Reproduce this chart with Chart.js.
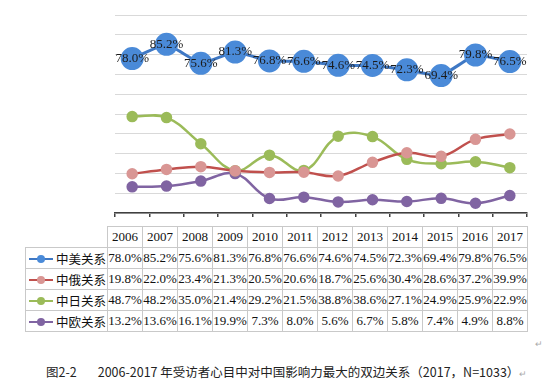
<!DOCTYPE html>
<html>
<head>
<meta charset="utf-8">
<script src="https://cdn.jsdelivr.net/npm/chart.js"></script>
<style>
  body { margin: 0; background: #fff; width: 548px; height: 391px; position: relative; overflow: hidden; }
  #wrap { position: absolute; left: 0; top: 0; width: 548px; height: 226px; }
  #tabel { position: absolute; left: 25px; top: 226px; border-collapse: collapse; table-layout: fixed; }
  #tabel td { border: 1px solid #c9c9c9; height: 20px; padding: 0; text-align: center; white-space: nowrap;
    font-family: "Liberation Serif", "DejaVu Serif", serif; font-size: 13px; color: #111; }
  #tabel td.kosong { border-top: none; border-left: none; }
  #tabel td.nama { text-align: left; font-family: "Noto Sans CJK SC", sans-serif; font-size: 12.5px; padding-left: 3px; }
  .garis { display: inline-block; position: relative; width: 24px; height: 2px; vertical-align: middle; margin-right: 3px; top: -1px; }
  .garis i { position: absolute; left: 8px; top: -3px; width: 8px; height: 8px; border-radius: 50%; }
  #judul { position: absolute; top: 364px; left: 46px; font-family: "Noto Sans CJK SC", sans-serif; font-size: 12.5px; color: #222; white-space: nowrap; line-height: 16px; }
  .enter { color: #aaa; font-size: 9px; }
</style>
</head>
<body>
<div id="wrap"><canvas id="chart" width="548" height="226"></canvas></div>
<table id="tabel"></table>
<div id="judul">图2-2<span style="display:inline-block;width:21px"></span>2006-2017 年受访者心目中对中国影响力最大的双边关系（2017，N=1033）<span class="enter">↵</span></div>
<div class="enter" style="position:absolute;left:535px;top:339px;">↵</div>

<script>
  var tahun = ["2006", "2007", "2008", "2009", "2010", "2011", "2012", "2013", "2014", "2015", "2016", "2017"];
  var nama = ["中美关系", "中俄关系", "中日关系", "中欧关系"];
  var zhongmei = [78.0, 85.2, 75.6, 81.3, 76.8, 76.6, 74.6, 74.5, 72.3, 69.4, 79.8, 76.5];
  var zhonge = [19.8, 22.0, 23.4, 21.3, 20.5, 20.6, 18.7, 25.6, 30.4, 28.6, 37.2, 39.9];
  var zhongri = [48.7, 48.2, 35.0, 21.4, 29.2, 21.5, 38.8, 38.6, 27.1, 24.9, 25.9, 22.9];
  var zhongou = [13.2, 13.6, 16.1, 19.9, 7.3, 8.0, 5.6, 6.7, 5.8, 7.4, 4.9, 8.8];

  var semua = [zhongmei, zhonge, zhongri, zhongou];
  var warnaGaris = ["#3f78c4", "#c0504d", "#9bbb59", "#8064a2"];
  var warnaTitik = ["#4a8ad8", "#d99694", "#9bbb59", "#8064a2"];

  // tabel data di bawah grafik
  var html = '<colgroup><col style="width:82px">';
  tahun.forEach(function () { html += '<col style="width:35px">'; });
  html += '</colgroup><tr><td class="kosong"></td>';
  tahun.forEach(function (t) { html += "<td>" + t + "</td>"; });
  html += "</tr>";
  semua.forEach(function (seri, i) {
    html += '<tr><td class="nama"><span class="garis" style="background:' + warnaGaris[i] + '"><i style="background:' + warnaTitik[i] + '"></i></span>' + nama[i] + "</td>";
    seri.forEach(function (v) { html += "<td>" + v.toFixed(1) + "%</td>"; });
    html += "</tr>";
  });
  document.getElementById("tabel").innerHTML = html;

  // label angka untuk seri pertama
  var labelPlugin = {
    id: "labelMei",
    afterDatasetsDraw: function (chart) {
      var ctx = chart.ctx;
      var meta = chart.getDatasetMeta(0);
      ctx.save();
      ctx.font = "13px 'Liberation Serif', serif";
      ctx.fillStyle = "#1b1b1b";
      ctx.textAlign = "center";
      ctx.textBaseline = "middle";
      meta.data.forEach(function (pt, i) {
        ctx.fillText(zhongmei[i].toFixed(1) + "%", pt.x, pt.y);
      });
      ctx.restore();
    },
  };

  var ctx = document.getElementById("chart").getContext("2d");
  var myChart = new Chart(ctx, {
    type: "line",
    data: {
      labels: tahun,
      datasets: semua.map(function (seri, i) {
        return {
          label: nama[i],
          data: seri,
          borderColor: warnaGaris[i],
          backgroundColor: warnaTitik[i],
          pointBackgroundColor: warnaTitik[i],
          pointBorderColor: warnaTitik[i],
          pointRadius: i === 0 ? 10 : 4.5,
          borderWidth: i === 0 ? 3 : 2.5,
          tension: i === 0 ? 0.1 : 0.4,
          fill: false,
        };
      }),
    },
    options: {
      responsive: false,
      animation: false,
      layout: { padding: { left: 115, right: 21, top: 15, bottom: 8 } },
      plugins: { legend: { display: false }, tooltip: { enabled: false } },
      scales: {
        x: {
          offset: true,
          grid: { offset: true, drawOnChartArea: false, drawTicks: true, tickLength: 4, color: "#404040", lineWidth: 1.5 },
          border: { color: "#404040", width: 1.5 },
          ticks: { display: false },
        },
        y: {
          min: 0,
          max: 100,
          ticks: { display: false, stepSize: 10 },
          grid: { drawTicks: false, color: "#d9d9d9", lineWidth: 1 },
          border: { display: false },
        },
      },
    },
    plugins: [labelPlugin],
  });
</script>
</body>
</html>
